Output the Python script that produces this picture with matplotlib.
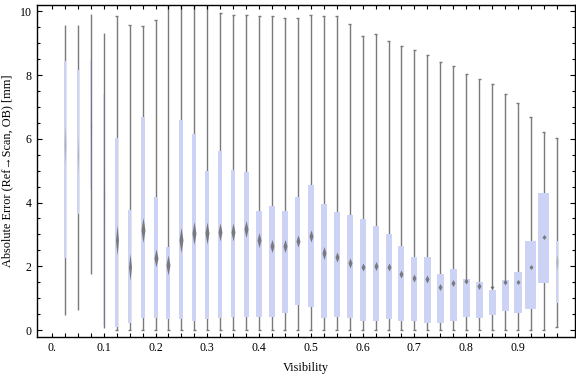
import numpy as np
import matplotlib
matplotlib.use("Agg")
import matplotlib.pyplot as plt
from matplotlib.path import Path

plt.rcParams['font.family'] = ['Liberation Serif', 'DejaVu Serif']

# visibility bins (box centres)
visibility = [0.025, 0.05, 0.075, 0.1, 0.125, 0.15, 0.175, 0.2, 0.225, 0.25,
              0.275, 0.3, 0.325, 0.35, 0.375, 0.4, 0.425, 0.45, 0.475, 0.5,
              0.525, 0.55, 0.575, 0.6, 0.625, 0.65, 0.675, 0.7, 0.725, 0.75,
              0.775, 0.8, 0.825, 0.85, 0.875, 0.9, 0.925, 0.95, 0.975]

# absolute error statistics [mm]
whisk_lo = [0.47, 0.63, 1.76, 0.05, 0.0, 0.0, 0.0, 0.0, 0.0, 0.0,
            0.0, 0.0, 0.0, 0.0, 0.0, 0.0, 0.0, 0.0, 0.0, 0.0,
            0.0, 0.0, 0.0, 0.0, 0.0, 0.0, 0.0, 0.0, 0.0, 0.0,
            0.0, 0.0, 0.0, 0.0, 0.0, 0.0, 0.0, 0.0, 0.10]
q1 = [2.25, 3.64, 4.39, 0.13, 0.10, 0.23, 0.37, 0.37, 0.34, 0.34,
      0.29, 0.34, 0.37, 0.40, 0.42, 0.40, 0.42, 0.54, 0.77, 0.73,
      0.39, 0.42, 0.37, 0.29, 0.29, 0.34, 0.29, 0.29, 0.23, 0.21,
      0.29, 0.40, 0.37, 0.48, 0.60, 0.54, 0.67, 1.46, 0.86]
median = [5.8, 5.5, 6.4, 4.2, 2.82, 1.98, 3.13, 2.25, 2.04, 2.82,
          3.06, 3.03, 3.08, 3.08, 3.16, 2.82, 2.64, 2.64, 2.80, 2.95,
          2.43, 2.30, 2.11, 1.97, 2.02, 1.97, 1.75, 1.64, 1.60, 1.36,
          1.48, 1.55, 1.38, 1.34, 1.50, 1.51, 1.98, 2.91, 2.14]
q3 = [8.43, 8.15, 8.49, 7.42, 6.04, 3.76, 6.67, 4.16, 2.61, 6.58,
      6.14, 4.98, 5.61, 5.02, 4.96, 3.73, 3.88, 3.73, 4.17, 4.54,
      3.95, 3.70, 3.60, 3.47, 3.26, 3.01, 2.63, 2.29, 2.29, 1.76,
      1.91, 1.60, 1.50, 1.25, 1.57, 1.82, 2.80, 4.30, 2.80]
whisk_hi = [9.56, 9.56, 9.93, 9.33, 9.84, 9.58, 9.55, 9.74, 10.24, 10.6,
            10.24, 10.27, 9.96, 9.90, 9.90, 9.87, 9.84, 9.80, 9.80, 9.90,
            9.84, 9.86, 9.61, 9.24, 9.30, 9.08, 8.92, 8.80, 8.64, 8.41,
            8.30, 8.05, 7.89, 7.73, 7.42, 7.11, 6.69, 6.20, 6.02]

# drawing styles (pixel sizes of boxes and median notches)
box_px = [2, 1.3, 1.3, 1.3, 3, 3, 4, 4, 4, 4, 4, 4, 4, 4.3, 5, 5.5, 5.5, 5.5, 5, 6,
          6, 6, 6, 6, 6, 6, 6, 6, 7, 6.5, 6.5, 7, 7, 7, 7, 8, 11, 11, 2.5]
notch_px = [40, 36, 50, 55, 30, 27, 25, 18, 20, 25, 23, 22, 18, 18, 17, 15, 13, 13, 12, 12,
            13, 10, 10, 8, 9, 8, 8, 8, 8, 7, 7, 6, 7, 4, 6, 5, 5, 5, 16]
faint = [0, 1, 2, 3, 38]

box_color = '#CDD3F5'
gray = '#7A7A7A'

W, H, DPI = 576, 377, 100
fig = plt.figure(figsize=(W / DPI, H / DPI), dpi=DPI)
ax = fig.add_axes([36.7 / W, 1 - 336.7 / H, (575 - 36.7) / W, (336.7 - 4.7) / H])
ax.set_xlim(-0.0295, 1.0101)
ax.set_ylim(-0.21, 10.21)

px_per_x = (575 - 36.7) / (1.0101 + 0.0295)
widths = [w / px_per_x for w in box_px]

ax.vlines(visibility, whisk_lo, whisk_hi, color=gray, lw=1.0, zorder=1)
for x, lo, hi, w in zip(visibility, whisk_lo, whisk_hi, box_px):
    if w >= 2.5:
        cw = 3.0 / px_per_x
        ax.hlines([lo, hi], x - cw / 2, x + cw / 2, color=gray, lw=1.0, zorder=1)

ax.bar(visibility, np.array(q3) - np.array(q1), bottom=q1, width=widths,
       color=box_color, edgecolor='none', zorder=2)

for i, (x, m) in enumerate(zip(visibility, median)):
    h = notch_px[i]
    w = min(box_px[i], 4.0)
    r = (w / 2) / (h / 2)
    verts = [(0, 1), (r, 0), (0, -1), (-r, 0), (0, 1)]
    marker = Path(verts, [Path.MOVETO, Path.LINETO, Path.LINETO, Path.LINETO, Path.CLOSEPOLY])
    alpha = 0.3 if i in faint else 0.85
    ax.plot([x], [m], marker=marker, ms=h * 72 / DPI, color='#6A6A6A',
            mec='none', alpha=alpha, zorder=3, ls='none')

# ticks
xt = [0.0] + visibility
xl = ['0.' if abs(v) < 1e-9 else ('%.1f' % v if abs(v * 10 - round(v * 10)) < 1e-9 else '') for v in xt]
ax.set_xticks(xt, xl)
ax.set_yticks([0, 2, 4, 6, 8, 10])
ax.set_yticks([v * 0.5 for v in range(21) if v % 4 != 0], minor=True)
ax.tick_params(axis='x', which='both', direction='in', top=True, bottom=True,
               length=2.9, width=0.8, labelsize=8.6, pad=4)
ax.tick_params(axis='y', which='major', direction='in', left=True, right=True,
               length=3.6, width=0.8, labelsize=8.6, pad=3.5)
ax.tick_params(axis='y', which='minor', direction='in', left=True, right=True,
               length=2.4, width=0.8)
for s in ax.spines.values():
    s.set_linewidth(1.0)

ax.set_xlabel('Visibility', fontsize=8.8)
ax.set_ylabel('Absolute Error (Ref\u2192Scan, OB) [mm]', fontsize=8.8)
ax.xaxis.set_label_coords(0.5, -0.075)
ax.yaxis.set_label_coords(-0.043, 0.5)

fig.savefig('out.png', dpi=DPI)
